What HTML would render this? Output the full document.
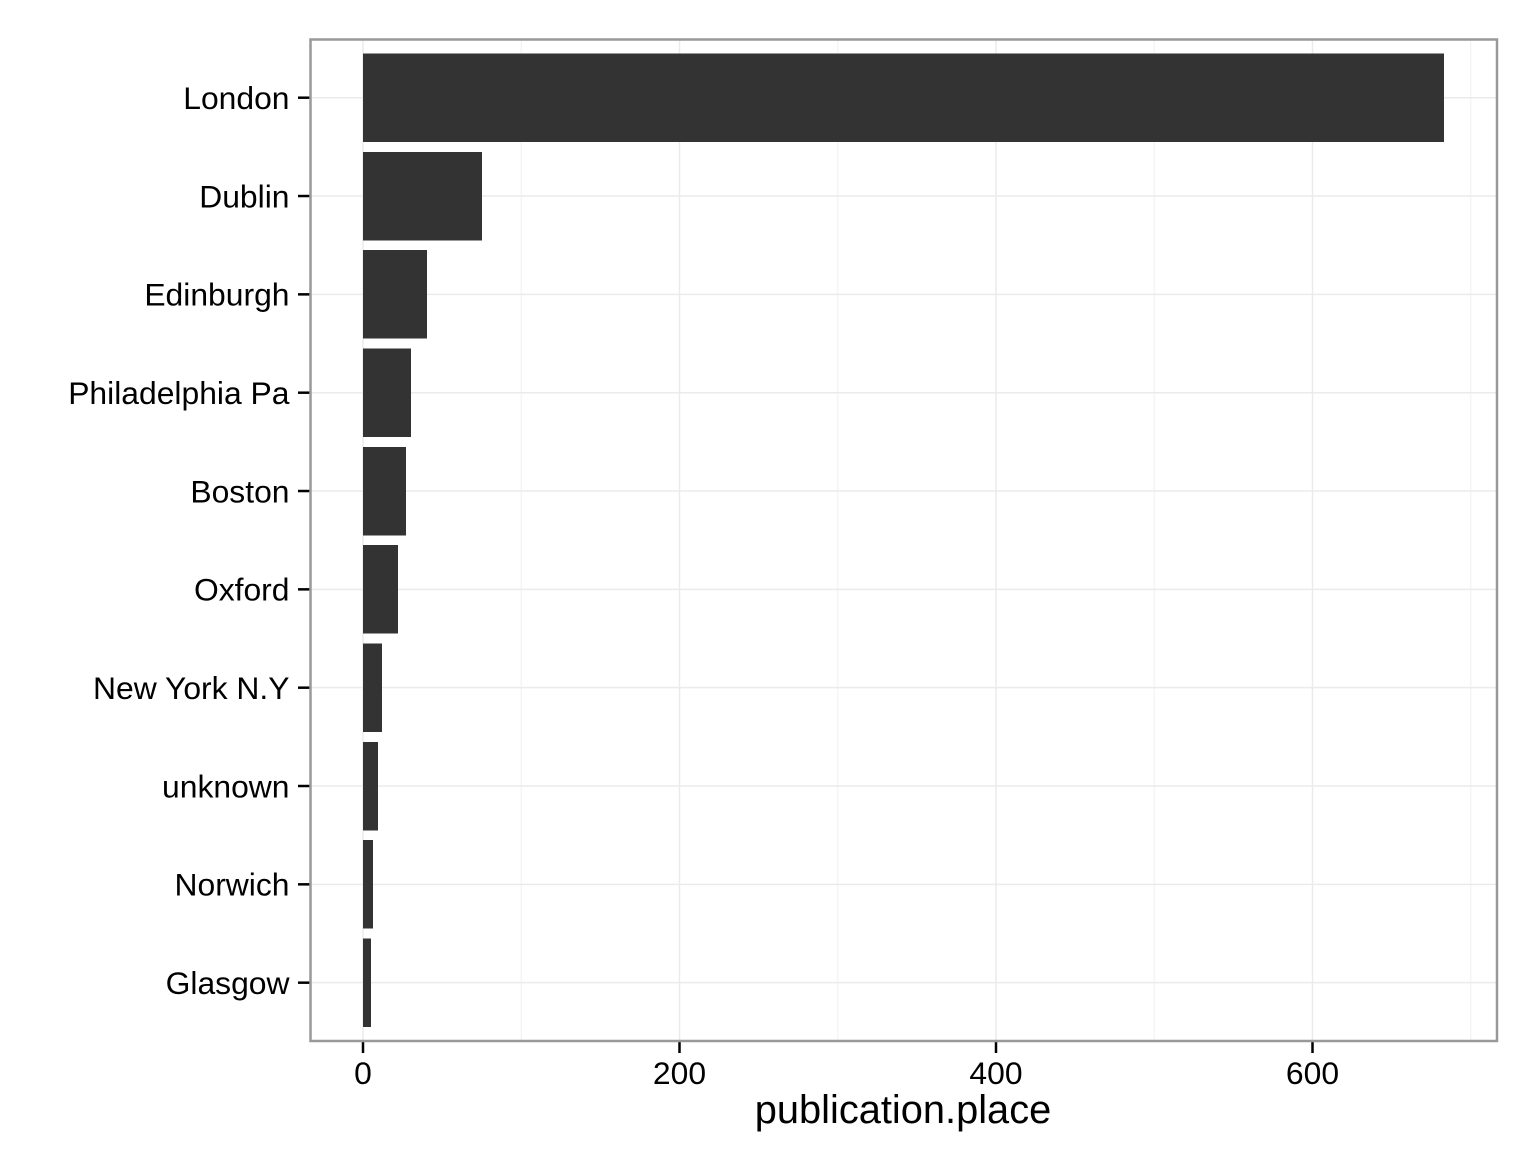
<!DOCTYPE html>
<html lang="en">
<head>
<meta charset="utf-8">
<title>publication.place bar chart</title>
<style>
html,body{margin:0;padding:0;background:#fff;width:1536px;height:1152px;overflow:hidden}
svg{display:block}
text{font-family:"Liberation Sans",sans-serif;fill:#000}
</style>
</head>
<body>
<svg id="chart" xmlns="http://www.w3.org/2000/svg" width="1536" height="1152" viewBox="0 0 1536 1152"></svg>
<script>
const categories = ["London","Dublin","Edinburgh","Philadelphia Pa","Boston","Oxford","New York N.Y","unknown","Norwich","Glasgow"];
const counts = [683,75.3,40.5,30.3,27.3,22,12,9.5,6.3,5];
const majorTicks = [0,200,400,600];
const minorTicks = [100,300,500,700];
const axisTitle = "publication.place";

const NS = "http://www.w3.org/2000/svg";
const svg = document.getElementById("chart");
const panel = {left:310.5, right:1497, top:39.5, bottom:1041};
const xScale = v => 363 + v * 1.5825;
const yScale = i => 97.7 + i * 98.33;
const barHeight = 88.5;

function add(tag, attrs, parent) {
  const el = document.createElementNS(NS, tag);
  for (const k in attrs) el.setAttribute(k, attrs[k]);
  (parent || svg).appendChild(el);
  return el;
}

minorTicks.forEach(t => {
  const el = add("line", {x1:xScale(t), x2:xScale(t), y1:panel.top, y2:panel.bottom, stroke:"#f5f5f5", "stroke-width":1.5});
  
  
});
majorTicks.forEach(t => {
  const el = add("line", {x1:xScale(t), x2:xScale(t), y1:panel.top, y2:panel.bottom, stroke:"#ebebeb", "stroke-width":1.5});
  
  
});
categories.forEach((c, i) => {
  const el = add("line", {x1:panel.left, x2:panel.right, y1:yScale(i), y2:yScale(i), stroke:"#ebebeb", "stroke-width":1.5});
  
  
});

categories.forEach((c, i) => {
  const bar = add("rect", {x:xScale(0), y:yScale(i) - barHeight / 2, width:xScale(counts[i]) - xScale(0), height:barHeight, fill:"#333333", "shape-rendering":"crispEdges"});
  
  

  const tick = add("line", {x1:298, x2:310, y1:yScale(i), y2:yScale(i), stroke:"#000", "stroke-width":2.5});
  
  

  const label = add("text", {x:289.5, y:yScale(i) + 11.3, "text-anchor":"end", "font-size":31.85});
  label.textContent = c;
  
  
});

majorTicks.forEach(t => {
  const tick = add("line", {x1:xScale(t), x2:xScale(t), y1:1042, y2:1053, stroke:"#000", "stroke-width":2.5});
  
  

  const label = add("text", {x:xScale(t), y:1084, "text-anchor":"middle", "font-size":31.85});
  label.textContent = t;
  
  
});

const border = add("rect", {x:panel.left, y:panel.top, width:panel.right - panel.left, height:panel.bottom - panel.top, fill:"none", stroke:"#999999", "stroke-width":2.5});



const title = add("text", {x:903, y:1123, "text-anchor":"middle", "font-size":39.8});
title.textContent = axisTitle;


</script>
</body>
</html>
